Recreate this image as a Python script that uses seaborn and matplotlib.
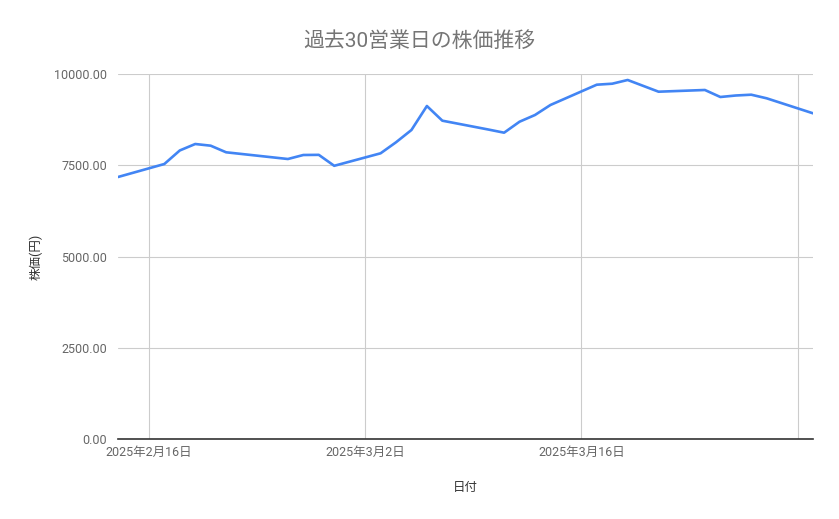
import pandas as pd
import matplotlib.pyplot as plt
import seaborn as sns

# 過去30営業日 (2025-02-14 〜 2025-03-31, 祝日除く)
dates = ['2025-02-14', '2025-02-17', '2025-02-18', '2025-02-19', '2025-02-20',
         '2025-02-21', '2025-02-25', '2025-02-26', '2025-02-27', '2025-02-28',
         '2025-03-03', '2025-03-04', '2025-03-05', '2025-03-06', '2025-03-07',
         '2025-03-10', '2025-03-11', '2025-03-12', '2025-03-13', '2025-03-14',
         '2025-03-17', '2025-03-18', '2025-03-19', '2025-03-21', '2025-03-24',
         '2025-03-25', '2025-03-26', '2025-03-27', '2025-03-28', '2025-03-31']
prices = [7178, 7534, 7905, 8082, 8036, 7855, 7671, 7781, 7785, 7485,
          7827, 8129, 8466, 9123, 8721, 8477, 8392, 8693, 8877, 9151,
          9707, 9734, 9836, 9515, 9562, 9370, 9411, 9433, 9334, 8923]

tick_dates = ['2025-02-16', '2025-03-02', '2025-03-16', '2025-03-30']
tick_labels = ['2025年2月16日', '2025年3月2日', '2025年3月16日', '']
y_ticks = [0, 2500, 5000, 7500, 10000]

df = pd.DataFrame({'日付': pd.to_datetime(dates), '株価': prices})

sns.set_theme(style="white")
plt.rcParams['font.family'] = ['Roboto', 'Noto Sans CJK JP', 'DejaVu Sans']

fig = plt.figure(figsize=(8.39, 5.19), dpi=100)
ax = fig.add_axes([118 / 839, 1 - 439 / 519, (813 - 118) / 839, (439 - 74) / 519])

sns.lineplot(data=df, x='日付', y='株価', ax=ax, color='#4285F4', linewidth=1.9)

ax.set_xlim(df['日付'].iloc[0], df['日付'].iloc[-1])
ax.set_ylim(0, 10000)
ax.set_yticks(y_ticks)
ax.set_yticklabels([f'{v:.2f}' for v in y_ticks])
ax.set_xticks(pd.to_datetime(tick_dates))
ax.set_xticklabels(tick_labels)

ax.grid(True, color='#cccccc', linewidth=0.8)
for side in ['top', 'right', 'left']:
    ax.spines[side].set_visible(False)
ax.spines['bottom'].set_color('#333333')
ax.spines['bottom'].set_linewidth(1.2)
ax.tick_params(axis='both', length=0, colors='#666666')
ax.tick_params(axis='y', labelsize=9, pad=8)
ax.tick_params(axis='x', labelsize=9, pad=5)

ax.set_xlabel('日付', fontsize=9, color='#333333', labelpad=16)
ax.set_ylabel('株価(円)', fontsize=9, color='#333333', labelpad=8)
fig.suptitle('過去30営業日の株価推移', fontsize=15, color='#757575', x=0.5, y=0.94)

plt.savefig('out.png', dpi=100)
